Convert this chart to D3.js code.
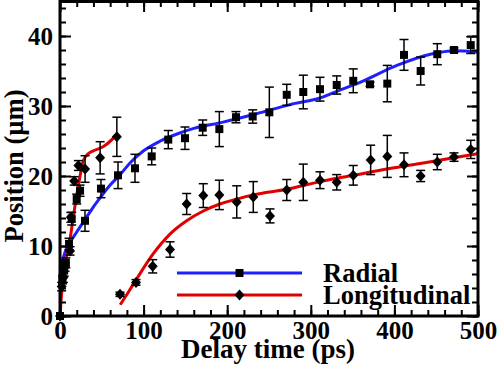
<!DOCTYPE html>
<html><head><meta charset="utf-8">
<script src="https://cdn.jsdelivr.net/npm/d3@7"></script>
<style>html,body{margin:0;padding:0;background:#fff;} svg{display:block;} text{font-family:"Liberation Serif","Times New Roman",serif;font-weight:bold;}</style>
</head><body>
<svg id="c" width="500" height="366"></svg>
<script>
// ---- data ----
const radialT   = [0, 3, 5, 7, 10.8, 14, 20, 24, 29.9, 49, 69.4, 89.7, 109.7, 129.5, 149.5, 170.7, 190.6, 210.5, 230.5, 250.4, 271.2, 291, 311, 331, 350.8, 370.8, 391.5, 411.5, 431.4, 451.3, 471.3, 491.3];
const radialV   = [0, 5.2, 6.5, 7.6, 10.3, 13.9, 16.7, 17.9, 13.6, 18.2, 20.1, 21.1, 22.8, 25.2, 25.4, 26.9, 26.7, 28.4, 28.5, 29.1, 31.6, 32.0, 32.4, 33.0, 33.6, 33.1, 33.2, 37.3, 35.0, 37.4, 38.0, 38.7];
const radialErr = [0, 0.6, 0.8, 0.7, 0.8, 0.9, 0.7, 0.8, 1.5, 1.3, 1.9, 2.0, 1.2, 1.3, 1.6, 1.1, 2.5, 0.8, 0.95, 3.6, 1.5, 2.4, 1.7, 1.3, 1.7, 0.3, 2.6, 2.2, 2.0, 1.5, 0.3, 1.2];

const longT   = [0, 2, 4, 6, 12, 13, 17, 22, 30, 48, 68, 71.8, 90.9, 110.9, 131.6, 151.5, 171.4, 190.6, 211.4, 231.2, 251.2, 271.2, 291, 311, 331, 350.8, 371.6, 391.5, 411.5, 431.4, 451.3, 471.3, 491.3];
const longV   = [0, 4.2, 5.5, 7.0, 9.3, 14.1, 19.3, 21.5, 21.0, 22.6, 25.6, 3.1, 4.8, 7.1, 9.5, 16.0, 17.2, 17.3, 16.3, 17.0, 14.3, 18.0, 19.1, 19.4, 19.1, 20.1, 22.3, 22.8, 21.6, 20.0, 22.0, 22.7, 23.8];
const longErr = [0, 0.6, 0.7, 0.6, 0.6, 0.7, 0.6, 0.7, 1.9, 2.3, 2.8, 0.3, 0.4, 0.95, 1.1, 1.5, 1.7, 2.1, 2.3, 2.2, 1.0, 1.5, 2.6, 1.2, 1.1, 1.4, 2.1, 3.0, 1.7, 0.8, 1.1, 0.6, 1.3];

// fit curves
const radialFitT = [0, 2, 6, 12, 20, 30, 40, 50, 60, 72, 84, 100, 120, 140, 160, 195, 235, 275, 315, 323, 363, 403, 443, 472, 500];
const radialFitV = [6.8, 7.5, 9.1, 10.5, 12.0, 13.8, 15.6, 17.2, 18.7, 20.2, 21.9, 23.6, 25.0, 26.0, 26.8, 27.7, 28.9, 30.2, 31.3, 31.7, 33.6, 35.8, 37.4, 37.9, 37.7];
const longFit1T = [0, 2, 6, 12, 18, 24, 28, 34, 40, 52, 62, 68];
const longFit1V = [0, 3.3, 7.2, 11.0, 15.8, 20.0, 22.2, 23.2, 23.6, 24.2, 25.2, 26.0];
const longFit2T = [72, 81.7, 91.7, 111.6, 131.6, 151.5, 171.4, 191.4, 211.4, 231.2, 271.2, 311, 351, 391, 431, 471, 500];
const longFit2V = [1.6, 3.4, 5.3, 8.9, 11.7, 13.6, 15.0, 16.0, 16.7, 17.3, 18.1, 19.2, 20.1, 21.0, 21.8, 22.6, 23.2];

const xTicks = [0, 100, 200, 300, 400, 500];
const yTicks = [0, 10, 20, 30, 40];
const seriesNames = ["Radial", "Longitudinal"];
const xTitle = "Delay time (ps)";
const yTitle = "Position (\u00B5m)";

// ---- drawing ----
const BLUE = "#2020ff", RED = "#e00000";
const svg = d3.select("#c");
const x = d3.scaleLinear().domain([0, 500]).range([60, 478]);
const y = d3.scaleLinear().domain([0, 45]).range([316, 1]);

const line = d3.line().x(d => x(d[0])).y(d => y(d[1])).curve(d3.curveMonotoneX);
const zip = (a, b) => a.map((v, i) => [v, b[i]]);

function fit(T, V, col) {
  svg.append("path").attr("d", line(zip(T, V))).attr("fill", "none")
    .attr("stroke", col).attr("stroke-width", 3);
}
fit(radialFitT, radialFitV, BLUE);
fit(longFit1T, longFit1V, RED);
fit(longFit2T, longFit2V, RED);

function errbars(T, V, E) {
  const g = svg.append("g").attr("stroke", "#000").attr("stroke-width", 1.5).attr("fill", "none");
  T.forEach((t, i) => {
    if (!E[i]) return;
    const cx = x(t), y1 = y(V[i] + E[i]), y2 = y(V[i] - E[i]);
    g.append("line").attr("x1", cx).attr("x2", cx).attr("y1", y1).attr("y2", y2);
    g.append("line").attr("x1", cx - 4.5).attr("x2", cx + 4.5).attr("y1", y1).attr("y2", y1);
    g.append("line").attr("x1", cx - 4.5).attr("x2", cx + 4.5).attr("y1", y2).attr("y2", y2);
  });
}
errbars(radialT, radialV, radialErr);
errbars(longT, longV, longErr);

const squarePath = (cx, cy) => `M${cx-4},${cy-4}h8v8h-8Z`;
const diamondPath = (cx, cy) => `M${cx},${cy-5.5}L${cx+5},${cy}L${cx},${cy+5.5}L${cx-5},${cy}Z`;
radialT.forEach((t, i) => svg.append("path").attr("d", squarePath(x(t), y(radialV[i]))).attr("fill", "#000"));
longT.forEach((t, i) => svg.append("path").attr("d", diamondPath(x(t), y(longV[i]))).attr("fill", "#000"));

// legend
const leg = svg.append("g");
[[BLUE, squarePath, 273], [RED, diamondPath, 295]].forEach(([col, mk, ly], i) => {
  leg.append("line").attr("x1", 177).attr("x2", 302).attr("y1", ly).attr("y2", ly)
    .attr("stroke", col).attr("stroke-width", 3);
  leg.append("path").attr("d", mk(239.5, ly)).attr("fill", "#000");
  leg.append("text").attr("x", 323).attr("y", ly + 8.5).attr("font-size", 26.5)
    .attr("fill", "#000").text(seriesNames[i]);
});

// axes (ticks inward on all four sides)
const xMinor = d3.range(0, 501, 20), yMinor = d3.range(0, 45.1, 2);
function axis(gen, scale, vals, size, tr, labels) {
  const a = gen(scale).tickValues(vals).tickSizeInner(size).tickSizeOuter(0);
  if (!labels) a.tickFormat("");
  const g = svg.append("g").attr("transform", tr).call(a);
  g.select(".domain").remove();
  g.selectAll(".tick line").attr("stroke", "#000").attr("stroke-width", 2);
  return g;
}
axis(d3.axisBottom, x, xMinor, -6, "translate(0,316)", false);
axis(d3.axisTop, x, xMinor, -6, "translate(0,1)", false);
axis(d3.axisLeft, y, yMinor, -6, "translate(60,0)", false);
axis(d3.axisRight, y, yMinor, -6, "translate(478,0)", false);
axis(d3.axisTop, x, xTicks, -11, "translate(0,1)", false);
axis(d3.axisRight, y, yTicks, -11, "translate(478,0)", false);
const gx = axis(d3.axisBottom, x, xTicks, -11, "translate(0,316)", true);
gx.selectAll(".tick text").attr("y", 0).attr("dy", 0).attr("transform", "translate(0,22.5)")
  .attr("font-size", 25).attr("fill", "#000").style("font-family", '"Liberation Serif",serif').style("font-weight", "bold");
const gy = axis(d3.axisLeft, y, yTicks, -11, "translate(60,0)", true);
gy.selectAll(".tick text").attr("x", -7).attr("dy", "0.34em")
  .attr("font-size", 25).attr("fill", "#000").style("font-family", '"Liberation Serif",serif').style("font-weight", "bold");

// frame
svg.append("rect").attr("x", 60).attr("y", 1.5).attr("width", 418).attr("height", 314.5)
  .attr("fill", "none").attr("stroke", "#000").attr("stroke-width", 3);

// titles
svg.append("text").attr("x", 268).attr("y", 358).attr("text-anchor", "middle")
  .attr("font-size", 27).attr("fill", "#000").text(xTitle);
svg.append("text").attr("transform", "translate(22.5,166) rotate(-90)").attr("text-anchor", "middle")
  .attr("font-size", 26.5).attr("fill", "#000").text(yTitle);
</script>
</body></html>
